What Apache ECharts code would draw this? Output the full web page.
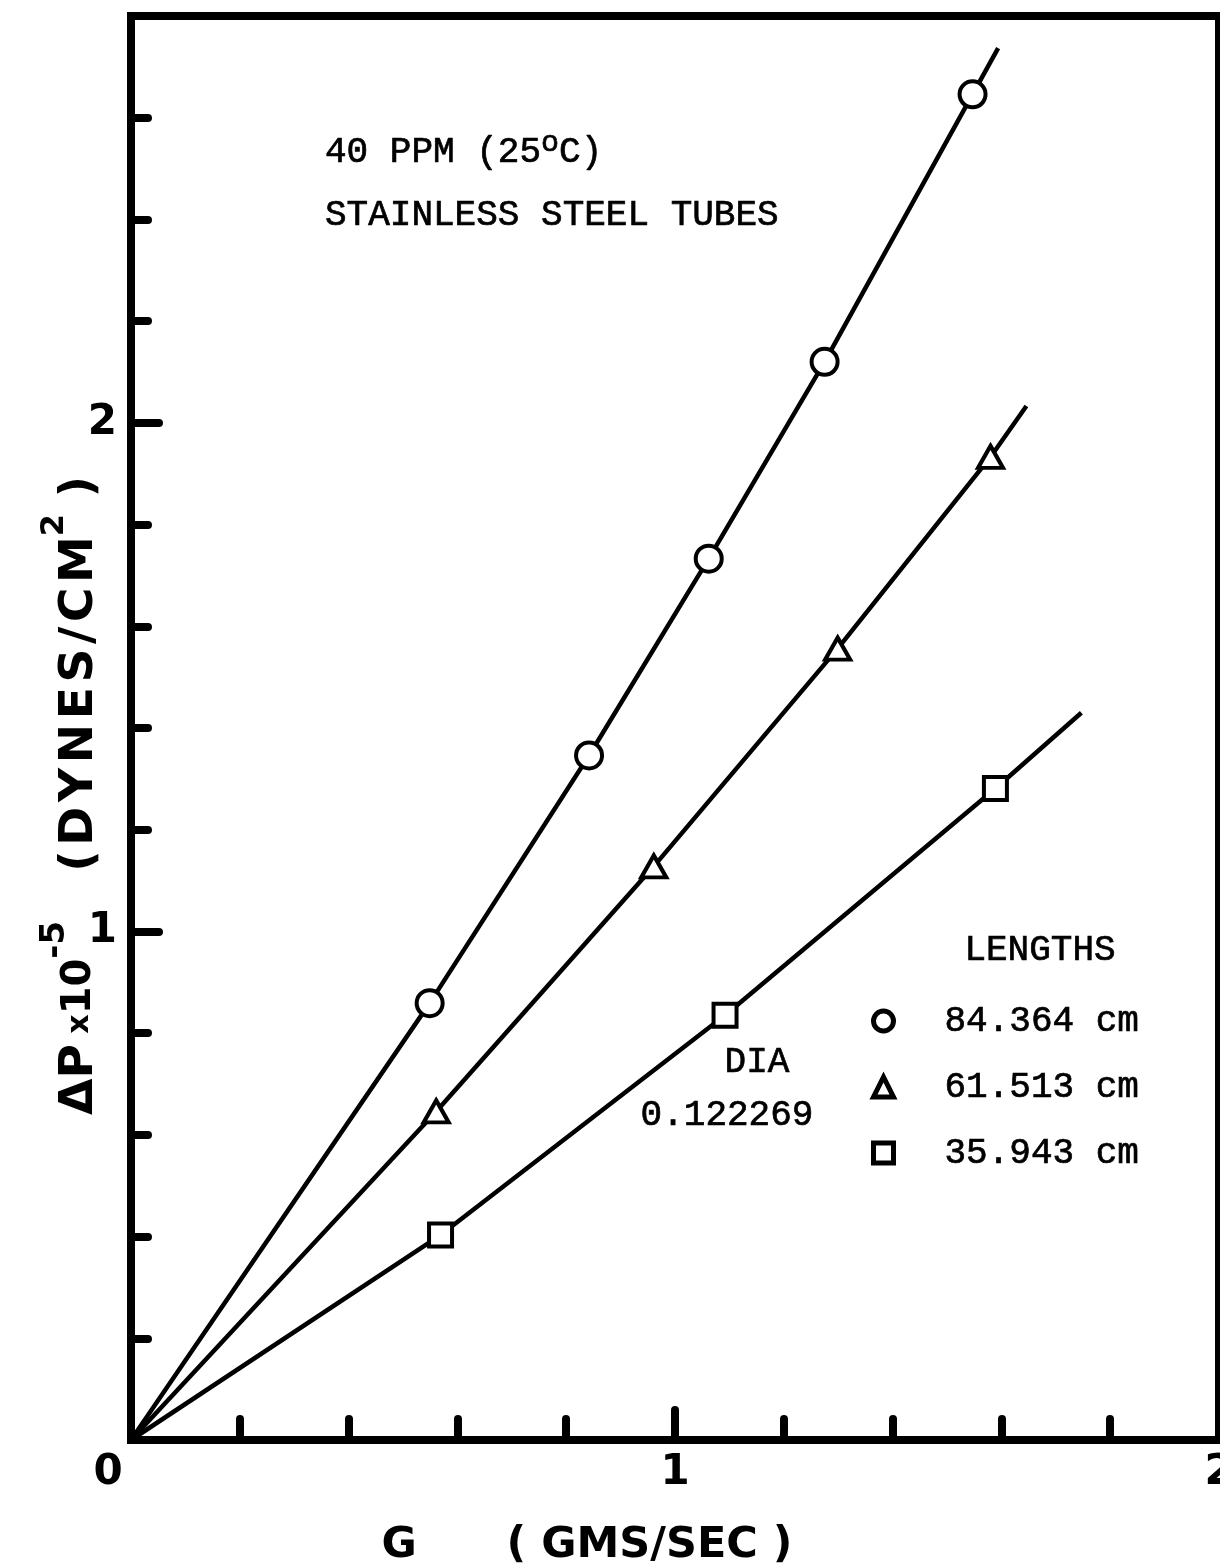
<!DOCTYPE html>
<html>
<head>
<meta charset="utf-8">
<script src="https://cdn.jsdelivr.net/npm/echarts@6/dist/echarts.min.js"></script>
<style>
  html, body { margin: 0; padding: 0; background: #fff; overflow: hidden; width: 1220px; height: 1566px; }
  #chart { position: absolute; left: 0; top: 0; width: 1220px; height: 1566px; }
</style>
</head>
<body>
<div id="chart"></div>
<script>
// Pressure drop vs. mass flow, 40 ppm solution at 25 C, stainless steel tubes
const seriesNames = ['84.364 cm', '61.513 cm', '35.943 cm'];
const seriesSymbols = ['circle', 'triangle', 'rect'];

// measured points: G (gm/sec) and ΔP x 10^-5 (dynes/cm^2)
const circleG = [0.549, 0.842, 1.062, 1.275, 1.547];
const circleDP = [0.859, 1.346, 1.733, 2.120, 2.646];
const triangleG = [0.561, 0.961, 1.299, 1.580];
const triangleDP = [0.646, 1.128, 1.556, 1.933];
const squareG = [0.569, 1.092, 1.589];
const squareDP = [0.403, 0.835, 1.281];

// where each faired curve stops (curves start at the origin)
const circleEnd = [1.594, 2.737];
const triangleEnd = [1.646, 2.033];
const squareEnd = [1.747, 1.430];

const xTickLabels = ['0', '1', '2'];
const yTickLabels = ['1', '2'];

const pairs = (xs, ys) => xs.map((x, i) => [x, ys[i]]);
const curve = (xs, ys, end) => [[0, 0]].concat(pairs(xs, ys), [end]);

const pointSets = [pairs(circleG, circleDP), pairs(triangleG, triangleDP), pairs(squareG, squareDP)];
const curveSets = [curve(circleG, circleDP, circleEnd), curve(triangleG, triangleDP, triangleEnd), curve(squareG, squareDP, squareEnd)];
const symbolSizes = [26, [25, 22], 23];

const isWhole = v => Math.abs(v - Math.round(v)) < 1e-6;
const axisFont = { fontFamily: 'DejaVu Sans', fontWeight: 'bold', color: '#000' };
const typeFont = 'Liberation Mono';
const typeStyle = { fontFamily: typeFont, fontSize: 36, fill: '#000', stroke: '#000', lineWidth: 0.7 };

// hand-lettered title: letters spread with hair spaces
const spread = s => s.split('').join('\u200a');

const series = [];
curveSets.forEach((data, i) => {
  series.push({
    name: seriesNames[i] + ' curve',
    type: 'line',
    data: data,
    showSymbol: false,
    symbol: 'none',
    silent: true,
    lineStyle: { color: '#000', width: 4.5 },
    z: 2
  });
});
pointSets.forEach((data, i) => {
  series.push({
    name: seriesNames[i],
    type: 'scatter',
    data: data,
    symbol: seriesSymbols[i],
    symbolSize: symbolSizes[i],
    itemStyle: { color: '#fff', borderColor: '#000', borderWidth: 4, opacity: 1 },
    z: 3
  });
});

const chart = echarts.init(document.getElementById('chart'), null, { renderer: 'canvas', width: 1220, height: 1566 });
chart.setOption({
  animation: false,
  backgroundColor: '#fff',
  grid: {
    left: 131, top: 16, width: 1088, height: 1424,
    outerBoundsMode: 'none',
    containLabel: false,
    show: true, borderColor: '#000', borderWidth: 8, backgroundColor: 'transparent'
  },
  xAxis: [{
    type: 'value', min: 0, max: 2, interval: 0.2,
    axisLine: { show: true, lineStyle: { color: '#000', width: 8 } },
    axisTick: { show: true, inside: true, length: 21, lineStyle: { color: '#000', width: 8, cap: 'round' } },
    splitLine: { show: false },
    axisLabel: Object.assign({
      fontSize: 42, margin: 12,
      hideOverlap: false,
      formatter: v => {
        if (!isWhole(v)) return '';
        const s = xTickLabels[Math.round(v)];
        return Math.round(v) === 0 ? '{z|' + s + '}' : s;
      },
      rich: { z: Object.assign({ fontSize: 42, padding: [0, 46, 0, 0] }, axisFont) }
    }, axisFont),
    name: 'G      ( GMS/SEC )',
    nameLocation: 'middle',
    nameGap: 84,
    nameMoveOverlap: false,
    nameTextStyle: Object.assign({ fontSize: 43, padding: [0, 176, 0, 0] }, axisFont)
  }, {
    type: 'value', min: 0, max: 2, interval: 1, position: 'bottom',
    axisLine: { show: false },
    axisTick: { show: true, inside: true, length: 30, lineStyle: { color: '#000', width: 8, cap: 'round' } },
    axisLabel: { show: false },
    splitLine: { show: false }
  }],
  yAxis: [{
    type: 'value', min: 0, max: 2.8, interval: 0.2,
    axisLine: { show: true, lineStyle: { color: '#000', width: 8 } },
    axisTick: { show: true, inside: true, length: 17, lineStyle: { color: '#000', width: 8, cap: 'round' } },
    splitLine: { show: false },
    axisLabel: Object.assign({
      fontSize: 42, margin: 14,
      formatter: v => (isWhole(v) && Math.round(v) >= 1) ? yTickLabels[Math.round(v) - 1] : ''
    }, axisFont),
    name: '{n|ΔP}{x| x}{t|10}{e|-5}{n|   ' + spread('(DYNES/CM') + '}{s|2}{n| )}',
    nameLocation: 'middle',
    nameGap: 26,
    nameMoveOverlap: false,
    nameTextStyle: Object.assign({
      fontSize: 47,
      padding: [0, 135, 0, 0],
      rich: {
        n: Object.assign({ fontSize: 47, lineHeight: 50 }, axisFont),
        x: Object.assign({ fontSize: 30, lineHeight: 50 }, axisFont),
        t: Object.assign({ fontSize: 40, lineHeight: 50 }, axisFont),
        e: Object.assign({ fontSize: 34, lineHeight: 32, padding: [0, 0, 50, 0] }, axisFont),
        s: Object.assign({ fontSize: 32, lineHeight: 32, padding: [0, 0, 50, 0] }, axisFont)
      }
    }, axisFont)
  }, {
    type: 'value', min: 0, max: 2.8, interval: 1, position: 'left',
    axisLine: { show: false },
    axisTick: { show: true, inside: true, length: 28, lineStyle: { color: '#000', width: 8, cap: 'round' } },
    axisLabel: { show: false },
    splitLine: { show: false }
  }],
  legend: {
    data: seriesNames,
    orient: 'vertical',
    left: 871, top: 1001,
    padding: 0,
    itemWidth: 20, itemHeight: 20,
    itemGap: 26,
    selectedMode: false,
    itemStyle: { color: '#fff', borderColor: '#000', borderWidth: 5 },
    textStyle: {
      fontFamily: typeFont, fontSize: 36, lineHeight: 40, color: '#000',
      textBorderColor: '#000', textBorderWidth: 0.7, padding: [0, 0, 0, 46]
    }
  },
  graphic: [
    {
      type: 'text', x: 325, y: 152, z: 10,
      style: Object.assign({
        text: '40 PPM (25{o|o}C)', align: 'left', verticalAlign: 'middle',
        rich: { o: { fontFamily: typeFont, fontSize: 30, padding: [0, 0, 18, 0] } }
      }, typeStyle)
    },
    {
      type: 'text', x: 325, y: 215, z: 10,
      style: Object.assign({ text: 'STAINLESS STEEL TUBES', align: 'left', verticalAlign: 'middle' }, typeStyle)
    },
    {
      type: 'text', x: 1040, y: 950, z: 10,
      style: Object.assign({ text: 'LENGTHS', align: 'center', verticalAlign: 'middle' }, typeStyle)
    },
    {
      type: 'text', x: 757, y: 1062, z: 10,
      style: Object.assign({ text: 'DIA', align: 'center', verticalAlign: 'middle' }, typeStyle)
    },
    {
      type: 'text', x: 727, y: 1115, z: 10,
      style: Object.assign({ text: '0.122269', align: 'center', verticalAlign: 'middle' }, typeStyle)
    }
  ],
  series: series
});
</script>
</body>
</html>
